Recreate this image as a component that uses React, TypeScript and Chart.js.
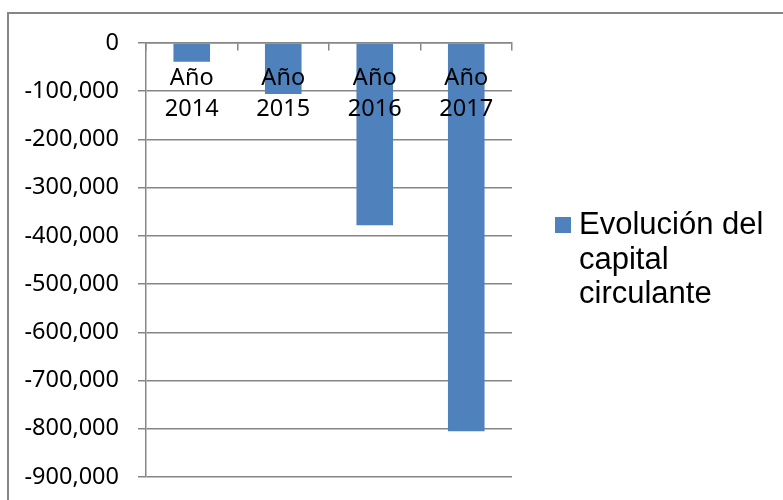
import React, { useEffect, useRef } from "react";
import { Chart, registerables } from "chart.js";

Chart.register(...registerables);

// Category labels (two lines each) and working-capital values
const categoryLabels: string[][] = [
  ["Año", "2014"],
  ["Año", "2015"],
  ["Año", "2016"],
  ["Año", "2017"],
];
const capitalValues: number[] = [-39000, -106000, -378000, -805000];

const seriesName = "Evolución del capital circulante";
const legendLines: string[] = ["Evolución del", "capital", "circulante"];

// Value axis range
const yMin = -900000;
const yMax = 0;
const yStep = 100000;

const BAR_COLOR = "#4F81BD";
const LINE_COLOR = "#868686";
const AXIS_FONT = "'Noto Sans', sans-serif";
const LEGEND_FONT = "'Liberation Sans', Arial, sans-serif";

// Outer frame of the chart object (top and left edges)
const framePlugin = {
  id: "frame",
  beforeDraw(chart: Chart) {
    const { ctx, width, height } = chart;
    ctx.save();
    ctx.strokeStyle = LINE_COLOR;
    ctx.lineWidth = 2;
    ctx.beginPath();
    ctx.moveTo(8, height);
    ctx.lineTo(8, 13);
    ctx.lineTo(width, 13);
    ctx.stroke();
    ctx.restore();
  },
};

// Legend with wrapped series name on the right side
const legendPlugin = {
  id: "wrappedLegend",
  afterDraw(chart: Chart) {
    const { ctx } = chart;
    const ds = chart.data.datasets[0];
    ctx.save();
    ctx.fillStyle = ds.backgroundColor as string;
    ctx.fillRect(555, 217, 16, 16);
    ctx.fillStyle = "#000";
    ctx.font = `31px ${LEGEND_FONT}`;
    ctx.textBaseline = "alphabetic";
    ctx.textAlign = "left";
    legendLines.forEach((line, i) => {
      ctx.fillText(line, 579, 234 + i * 34.5);
    });
    ctx.restore();
  },
};

export default function App() {
  const canvasRef = useRef<HTMLCanvasElement | null>(null);

  useEffect(() => {
    const canvas = canvasRef.current;
    if (!canvas) return;
    const chart = new Chart(canvas, {
      type: "bar",
      data: {
        labels: categoryLabels,
        datasets: [
          {
            label: seriesName,
            data: capitalValues,
            backgroundColor: BAR_COLOR,
            categoryPercentage: 1,
            barPercentage: 0.4,
          },
        ],
      },
      options: {
        responsive: false,
        animation: false,
        devicePixelRatio: 1,
        layout: { padding: { left: 0, top: 43, right: 271, bottom: 23 } },
        plugins: {
          legend: { display: false },
          tooltip: { enabled: false },
        },
        scales: {
          x: {
            position: { y: 0 } as any,
            afterFit(scale: any) {
              scale.height = 0;
            },
            grid: {
              display: true,
              drawOnChartArea: false,
              drawTicks: true,
              tickLength: 7,
              color: LINE_COLOR,
              lineWidth: 1.5,
              offset: true,
            },
            border: { display: true, color: LINE_COLOR, width: 1.5, z: 1 },
            ticks: {
              z: 1,
              color: "#000",
              padding: 13,
              font: { family: AXIS_FONT, size: 23.5, lineHeight: 1.3 },
              maxRotation: 0,
              autoSkip: false,
            },
          },
          y: {
            min: yMin,
            max: yMax,
            afterFit(scale: any) {
              scale.width = 146;
              scale.paddingTop = 0;
              scale.paddingBottom = 0;
            },
            grid: {
              color: LINE_COLOR,
              lineWidth: 1.5,
              tickLength: 8,
            },
            border: { display: true, color: LINE_COLOR, width: 1.5 },
            ticks: {
              stepSize: yStep,
              color: "#000",
              padding: 19,
              font: { family: AXIS_FONT, size: 23.5 },
              callback: (v: any) => Number(v).toLocaleString("en-US"),
            },
          },
        },
      },
      plugins: [framePlugin, legendPlugin],
    });
    return () => chart.destroy();
  }, []);

  return (
    <div style={{ position: "fixed", left: 0, top: 0, width: 783, height: 500, background: "#fff" }}>
      <canvas ref={canvasRef} width={783} height={500} style={{ display: "block" }} />
    </div>
  );
}
